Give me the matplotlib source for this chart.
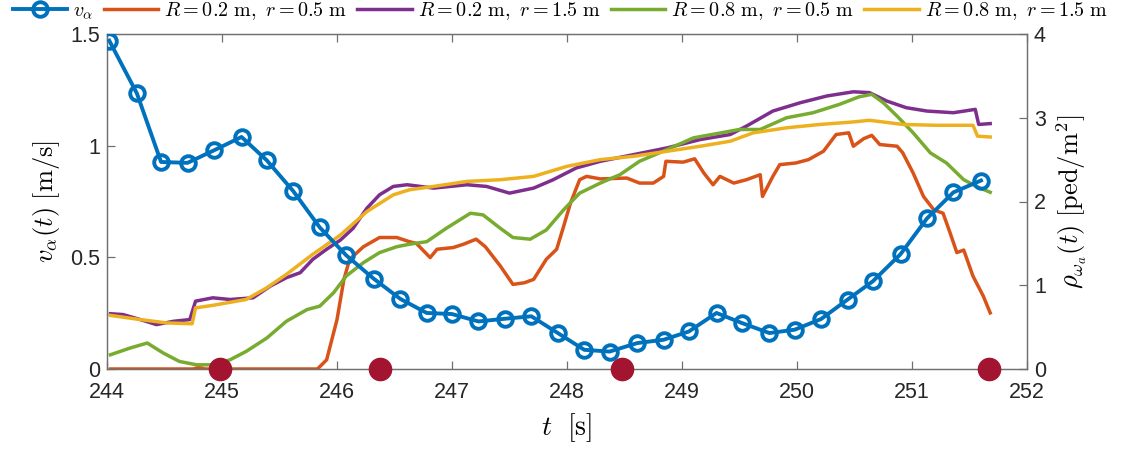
import matplotlib
matplotlib.use("Agg")
import matplotlib.pyplot as plt

plt.rcParams['mathtext.fontset'] = 'cm'
plt.rcParams['font.family'] = ['Liberation Sans', 'DejaVu Sans']

# ---- data ----
t_v = [244.02, 244.26, 244.47, 244.70, 244.93, 245.17, 245.39, 245.62, 245.85, 246.08,
       246.32, 246.55, 246.78, 247.00, 247.23, 247.46, 247.69, 247.92, 248.15, 248.37,
       248.61, 248.84, 249.06, 249.30, 249.52, 249.76, 249.98, 250.21, 250.44, 250.66,
       250.90, 251.13, 251.36, 251.60]
v_alpha = [1.47, 1.234, 0.927, 0.923, 0.979, 1.039, 0.934, 0.796, 0.634, 0.509,
           0.404, 0.314, 0.251, 0.246, 0.213, 0.225, 0.236, 0.161, 0.086, 0.078,
           0.116, 0.131, 0.168, 0.251, 0.206, 0.161, 0.176, 0.224, 0.311, 0.393,
           0.514, 0.674, 0.791, 0.844]

t_orange = [244.03, 244.75, 244.8, 244.85, 245.83, 245.91, 246.0, 246.06, 246.11, 246.23,
            246.37, 246.52, 246.63, 246.69, 246.81, 246.87, 247.01, 247.10, 247.21, 247.29,
            247.42, 247.53, 247.63, 247.71, 247.82, 247.91, 247.97, 248.03, 248.11, 248.17,
            248.29, 248.52, 248.63, 248.75, 248.84, 248.86, 249.01, 249.11, 249.19, 249.27,
            249.33, 249.45, 249.56, 249.68, 249.70, 249.79, 249.85, 249.99, 250.10, 250.23,
            250.34, 250.45, 250.49, 250.58, 250.65, 250.72, 250.87, 250.92, 251.01, 251.10,
            251.19, 251.27, 251.33, 251.39, 251.45, 251.53, 251.62, 251.68]
rho_orange = [0.0, 0.0, 0.02, 0.0, 0.0, 0.11, 0.59, 1.07, 1.31, 1.46,
              1.57, 1.57, 1.52, 1.50, 1.33, 1.43, 1.45, 1.49, 1.55, 1.46,
              1.23, 1.01, 1.03, 1.07, 1.31, 1.43, 1.70, 1.98, 2.26, 2.30,
              2.27, 2.28, 2.22, 2.22, 2.30, 2.48, 2.47, 2.51, 2.34, 2.20,
              2.30, 2.22, 2.26, 2.32, 2.06, 2.30, 2.44, 2.46, 2.50, 2.60,
              2.80, 2.82, 2.66, 2.75, 2.79, 2.68, 2.66, 2.58, 2.34, 2.06,
              1.90, 1.86, 1.63, 1.39, 1.42, 1.11, 0.87, 0.67]

t_purple = [244.03, 244.14, 244.29, 244.43, 244.58, 244.72, 244.77, 244.92, 245.07, 245.27,
            245.42, 245.56, 245.68, 245.79, 245.91, 246.03, 246.14, 246.26, 246.37, 246.49,
            246.61, 246.84, 247.13, 247.30, 247.50, 247.71, 247.88, 248.08, 248.29, 248.58,
            248.87, 249.16, 249.42, 249.56, 249.79, 250.03, 250.26, 250.49, 250.63, 250.78,
            250.95, 251.13, 251.36, 251.55, 251.58, 251.68]
rho_purple = [0.66, 0.65, 0.59, 0.53, 0.57, 0.59, 0.81, 0.85, 0.83, 0.85,
              0.99, 1.09, 1.15, 1.31, 1.43, 1.54, 1.68, 1.92, 2.08, 2.18,
              2.20, 2.16, 2.20, 2.18, 2.10, 2.16, 2.26, 2.40, 2.48, 2.56,
              2.64, 2.74, 2.80, 2.90, 3.08, 3.18, 3.26, 3.31, 3.30, 3.20,
              3.12, 3.08, 3.06, 3.10, 2.92, 2.93]

t_green = [244.03, 244.20, 244.35, 244.49, 244.63, 244.78, 244.92, 245.07, 245.21, 245.39,
           245.56, 245.74, 245.85, 245.97, 246.08, 246.23, 246.37, 246.52, 246.63, 246.78,
           246.95, 247.16, 247.27, 247.42, 247.53, 247.68, 247.82, 247.97, 248.11, 248.29,
           248.46, 248.63, 248.87, 249.10, 249.42, 249.50, 249.68, 249.91, 250.14, 250.37,
           250.54, 250.65, 250.75, 250.87, 251.01, 251.16, 251.30, 251.45, 251.56, 251.68]
rho_green = [0.17, 0.25, 0.31, 0.19, 0.09, 0.05, 0.05, 0.11, 0.21, 0.37,
             0.57, 0.71, 0.75, 0.91, 1.11, 1.27, 1.39, 1.46, 1.49, 1.52,
             1.68, 1.86, 1.84, 1.68, 1.57, 1.55, 1.66, 1.90, 2.10, 2.22,
             2.32, 2.48, 2.62, 2.76, 2.84, 2.86, 2.86, 3.00, 3.06, 3.16,
             3.25, 3.28, 3.18, 3.02, 2.82, 2.58, 2.46, 2.26, 2.18, 2.11]

t_yellow = [244.03, 244.29, 244.52, 244.74, 244.77, 244.92, 245.21, 245.39, 245.56, 245.79,
            246.03, 246.26, 246.49, 246.63, 246.84, 247.13, 247.42, 247.71, 248.0, 248.29,
            248.58, 248.87, 249.16, 249.42, 249.62, 249.91, 250.20, 250.49, 250.63, 250.92,
            251.21, 251.53, 251.57, 251.68]
rho_yellow = [0.64, 0.59, 0.55, 0.54, 0.73, 0.76, 0.83, 0.97, 1.13, 1.37,
              1.60, 1.88, 2.08, 2.14, 2.18, 2.24, 2.26, 2.30, 2.42, 2.50,
              2.54, 2.60, 2.66, 2.72, 2.82, 2.88, 2.92, 2.95, 2.97, 2.92,
              2.91, 2.91, 2.78, 2.77]

t_events = [244.98, 246.37, 248.48, 251.67]
v_events = [0, 0, 0, 0]

labels = [r'$v_\alpha$',
          r'$R=0.2\ \mathrm{m},\ r=0.5\ \mathrm{m}$',
          r'$R=0.2\ \mathrm{m},\ r=1.5\ \mathrm{m}$',
          r'$R=0.8\ \mathrm{m},\ r=0.5\ \mathrm{m}$',
          r'$R=0.8\ \mathrm{m},\ r=1.5\ \mathrm{m}$']

C_BLUE = '#0072BD'
C_ORANGE = '#D95319'
C_YELLOW = '#EDB120'
C_PURPLE = '#7E2F8E'
C_GREEN = '#77AC30'
C_RED = '#A2142F'

fig = plt.figure(figsize=(11.32, 4.5), dpi=100)
ax = fig.add_axes([107/1132, 1-369/450, (1027-107)/1132, (369-34)/450])
ax2 = ax.twinx()

lw = 2.5
h_o, = ax2.plot(t_orange, rho_orange, color=C_ORANGE, lw=lw, label=labels[1])
h_p, = ax2.plot(t_purple, rho_purple, color=C_PURPLE, lw=lw, label=labels[2])
h_g, = ax2.plot(t_green, rho_green, color=C_GREEN, lw=lw, label=labels[3])
h_y, = ax2.plot(t_yellow, rho_yellow, color=C_YELLOW, lw=lw, label=labels[4])

h_b, = ax.plot(t_v, v_alpha, color=C_BLUE, lw=2.8, marker='o', ms=10.5, mfc='none',
               mec=C_BLUE, mew=2.8, label=labels[0], zorder=5)
ax.plot(t_events, v_events, 'o', color=C_RED, ms=16, clip_on=False, zorder=6)

ax.set_zorder(ax2.get_zorder() + 1)
ax.patch.set_visible(False)

ax.set_xlim(244, 252)
ax.set_ylim(0, 1.5)
ax2.set_ylim(0, 4)
ax.set_xticks(range(244, 253))
ax.set_yticks([0, 0.5, 1, 1.5])
ax.set_yticklabels(['0', '0.5', '1', '1.5'])
ax2.set_yticks([0, 1, 2, 3, 4])

edge = '#707070'
for a in (ax, ax2):
    for s in a.spines.values():
        s.set_color(edge)
        s.set_linewidth(0.9)
tick_fs = 15.5
ax.tick_params(axis='x', direction='in', top=True, length=6, width=0.9, color=edge,
               labelsize=tick_fs, pad=9, labelcolor='#262626')
ax.tick_params(axis='y', direction='in', length=6, width=0.9, color=edge,
               labelsize=tick_fs, pad=5, labelcolor='#262626')
ax2.tick_params(axis='y', direction='in', length=6, width=0.9, color=edge,
                labelsize=tick_fs, pad=5, labelcolor='#262626')

ax.set_xlabel(r'$t\ \ [\mathrm{s}]$', fontsize=20, labelpad=6)
ax.set_ylabel(r'$v_\alpha(t)\ [\mathrm{m/s}]$', fontsize=19, labelpad=6)
ax2.set_ylabel(r'$\rho_{\omega_a}(t)\ [\mathrm{ped/m^2}]$', fontsize=19, labelpad=6)

fig.legend(handles=[h_b, h_o, h_p, h_g, h_y], labels=labels, loc='upper center',
           bbox_to_anchor=(0.495, 1.04), ncol=5, frameon=False, fontsize=14.5,
           handlelength=2.7, columnspacing=0.5, handletextpad=0.3)

fig.savefig('out.png', dpi=100)
